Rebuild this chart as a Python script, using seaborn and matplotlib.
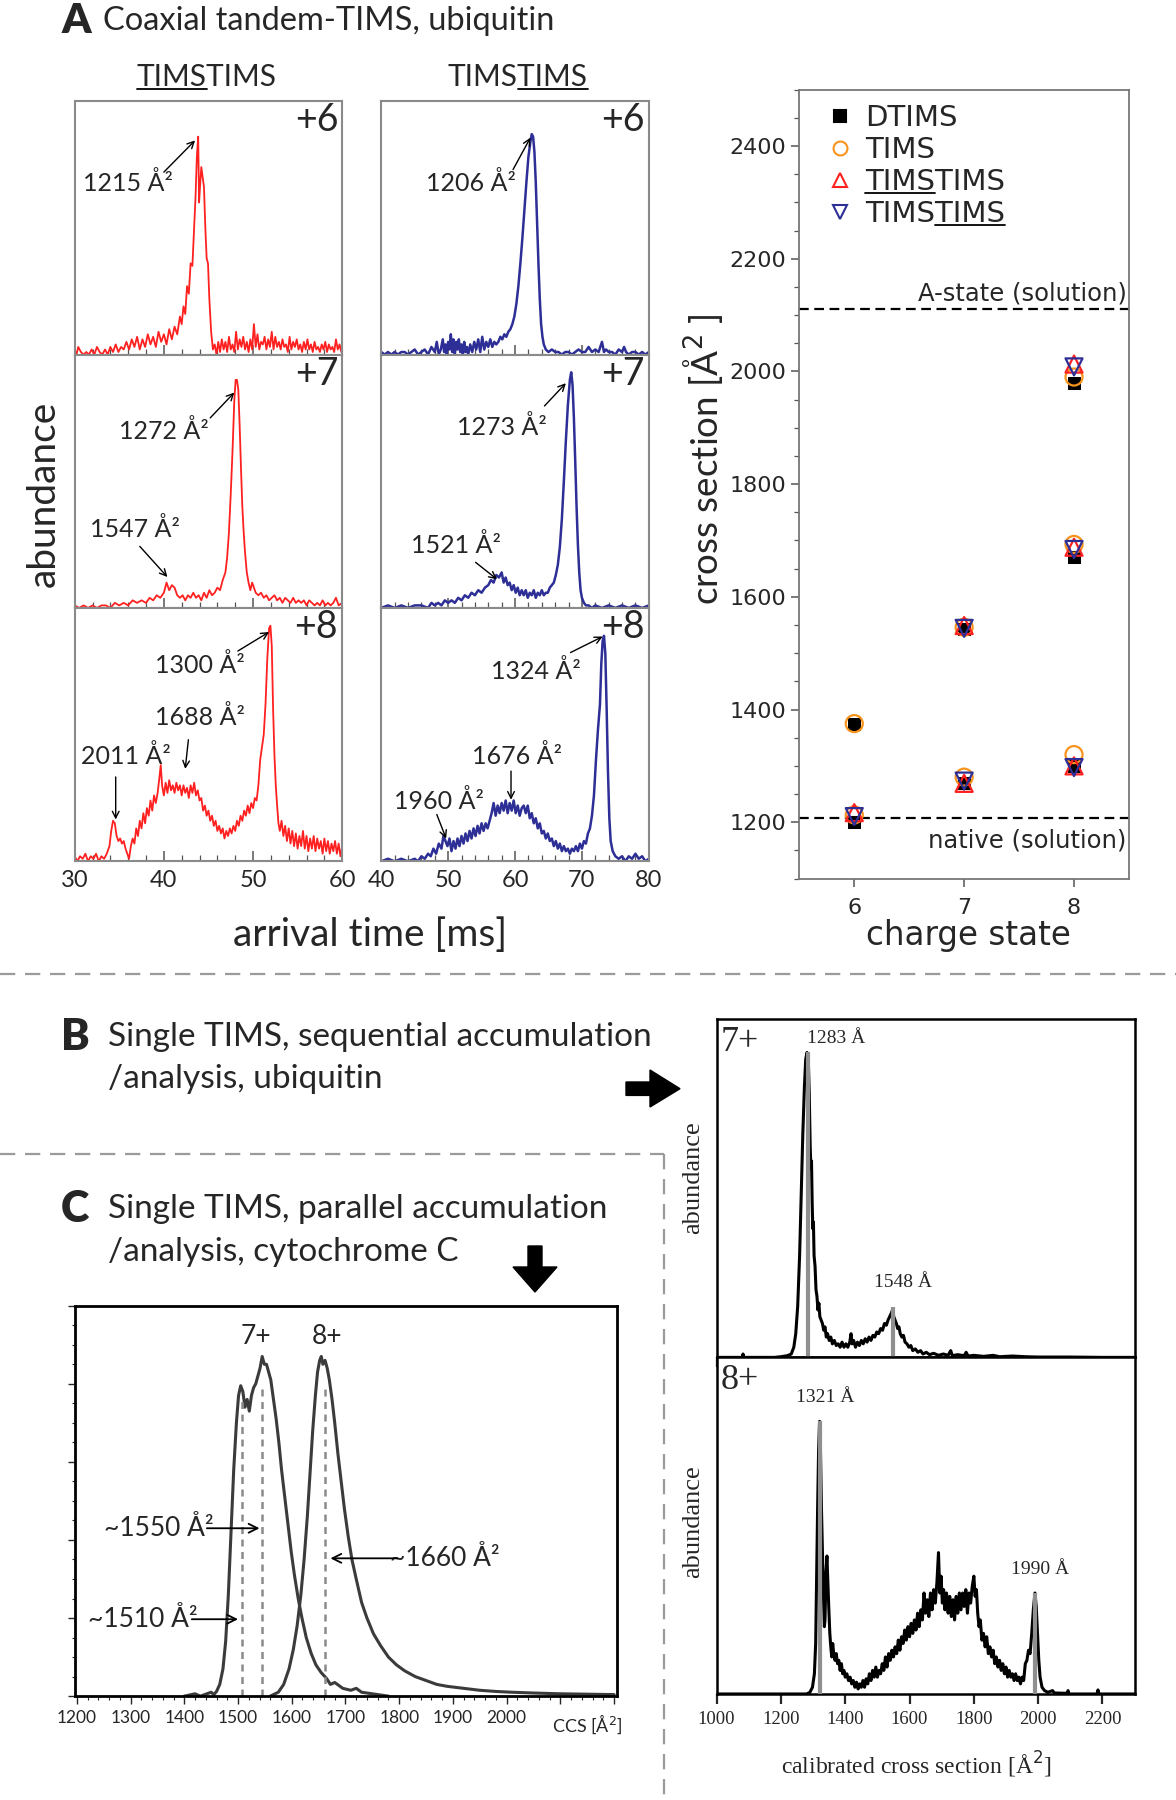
import numpy as np
import pandas as pd
import matplotlib
matplotlib.use("Agg")
import matplotlib.pyplot as plt
import seaborn as sns
from matplotlib.lines import Line2D
from matplotlib.patches import Polygon
from matplotlib.ticker import MultipleLocator, NullFormatter, FixedLocator
from matplotlib import font_manager

# ---------------- data ----------------
# Panel A: arrival-time traces (ms, relative abundance)
red6 = [(30.0,0.02),(30.2,0.0),(30.4,0.03),(30.7,0.01),(31.0,0.0),(31.3,0.01),(31.6,0.0),(31.9,0.02),(32.2,0.0),(32.5,0.03),
        (32.8,0.01),(33.1,0.0),(33.4,0.02),(33.7,0.0),(34.0,0.03),(34.3,0.01),(34.6,0.04),(34.9,0.01),(35.2,0.03),(35.5,0.02),
        (35.8,0.05),(36.1,0.02),(36.4,0.06),(36.7,0.03),(37.0,0.07),(37.3,0.02),(37.6,0.06),(37.9,0.03),(38.2,0.08),(38.5,0.04),
        (38.8,0.07),(39.1,0.03),(39.4,0.09),(39.7,0.05),(40.0,0.08),(40.3,0.04),(40.6,0.1),(40.9,0.06),(41.2,0.11),(41.5,0.08),
        (41.8,0.15),(42.0,0.12),(42.2,0.19),(42.4,0.16),(42.6,0.27),(42.8,0.24),(43.0,0.36),(43.2,0.35),(43.4,0.5),(43.55,0.62),
        (43.7,0.78),(43.85,0.86),(43.95,0.6),(44.05,0.66),(44.2,0.74),(44.35,0.7),(44.5,0.66),(44.65,0.5),(44.8,0.38),(44.95,0.36),
        (45.1,0.22),(45.3,0.09),(45.5,0.02),(45.7,0.04),(45.9,0.0),(46.1,0.05),(46.3,0.01),(46.5,0.06),(46.7,0.02),(46.9,0.05),
        (47.1,0.01),(47.3,0.07),(47.5,0.02),(47.7,0.04),(47.9,0.01),(48.1,0.09),(48.3,0.02),(48.5,0.06),(48.7,0.03),(48.9,0.07),
        (49.1,0.02),(49.3,0.05),(49.5,0.01),(49.7,0.06),(49.9,0.02),(50.1,0.12),(50.3,0.03),(50.5,0.08),(50.7,0.02),(50.9,0.05),
        (51.1,0.04),(51.3,0.07),(51.5,0.02),(51.7,0.06),(51.9,0.03),(52.1,0.09),(52.3,0.02),(52.5,0.07),(52.7,0.03),(52.9,0.05),
        (53.1,0.02),(53.3,0.06),(53.5,0.03),(53.7,0.04),(53.9,0.01),(54.1,0.07),(54.3,0.02),(54.5,0.05),(54.7,0.03),(54.9,0.06),
        (55.1,0.02),(55.3,0.04),(55.5,0.01),(55.7,0.05),(55.9,0.02),(56.1,0.06),(56.3,0.02),(56.5,0.04),(56.7,0.01),(56.9,0.05),
        (57.1,0.02),(57.3,0.03),(57.5,0.01),(57.7,0.04),(57.9,0.02),(58.1,0.05),(58.3,0.01),(58.5,0.04),(58.7,0.02),(58.9,0.03),
        (59.1,0.01),(59.3,0.06),(59.5,0.02),(59.7,0.04),(59.9,0.01),(60.0,0.03)]
red7 = [(30.0,0.01),(30.5,0.0),(31.0,0.01),(31.5,0.0),(32.0,0.01),(32.5,0.0),(33.0,0.01),(33.5,0.01),(34.0,0.0),(34.5,0.02),
        (35.0,0.01),(35.5,0.02),(36.0,0.01),(36.5,0.03),(37.0,0.02),(37.5,0.03),(38.0,0.02),(38.4,0.04),(38.8,0.03),(39.2,0.05),
        (39.6,0.04),(40.0,0.06),(40.3,0.1),(40.6,0.07),(40.9,0.09),(41.2,0.08),(41.5,0.05),(41.8,0.04),(42.1,0.05),(42.4,0.03),
        (42.7,0.05),(43.0,0.04),(43.3,0.06),(43.6,0.04),(43.9,0.05),(44.2,0.03),(44.5,0.06),(44.8,0.04),(45.1,0.07),(45.4,0.05),
        (45.7,0.06),(46.0,0.08),(46.3,0.07),(46.6,0.11),(46.9,0.14),(47.1,0.2),(47.3,0.3),(47.5,0.45),(47.7,0.62),(47.9,0.82),
        (48.05,0.9),(48.2,0.9),(48.35,0.86),(48.5,0.72),(48.65,0.55),(48.8,0.4),(48.95,0.3),(49.1,0.22),(49.3,0.14),(49.5,0.1),
        (49.7,0.07),(49.9,0.1),(50.1,0.08),(50.3,0.06),(50.6,0.05),(50.9,0.06),(51.2,0.04),(51.5,0.05),(51.8,0.03),(52.1,0.04),
        (52.4,0.05),(52.7,0.03),(53.0,0.04),(53.3,0.02),(53.6,0.04),(53.9,0.03),(54.2,0.02),(54.5,0.04),(54.8,0.02),(55.1,0.03),
        (55.4,0.02),(55.7,0.03),(56.0,0.01),(56.3,0.03),(56.6,0.02),(56.9,0.01),(57.2,0.02),(57.5,0.01),(57.8,0.03),(58.1,0.01),
        (58.4,0.02),(58.7,0.01),(59.0,0.02),(59.3,0.04),(59.6,0.01),(60.0,0.02)]
red8 = [(30.0,0.02),(30.3,0.0),(30.6,0.02),(30.9,0.01),(31.2,0.03),(31.5,0.0),(31.8,0.02),(32.1,0.01),(32.4,0.03),(32.7,0.0),
        (33.0,0.02),(33.3,0.01),(33.6,0.03),(33.9,0.06),(34.1,0.12),(34.3,0.16),(34.5,0.15),(34.7,0.1),(34.9,0.08),(35.1,0.09),
        (35.3,0.07),(35.5,0.08),(35.7,0.05),(35.9,0.03),(36.1,0.01),(36.3,0.06),(36.5,0.09),(36.7,0.07),(36.9,0.13),(37.1,0.1),
        (37.3,0.16),(37.5,0.13),(37.7,0.19),(37.9,0.15),(38.1,0.21),(38.3,0.18),(38.5,0.24),(38.7,0.2),(38.9,0.26),(39.1,0.23),
        (39.3,0.27),(39.5,0.33),(39.65,0.38),(39.8,0.3),(40.0,0.26),(40.2,0.31),(40.4,0.27),(40.6,0.32),(40.8,0.28),(41.0,0.3),
        (41.2,0.27),(41.4,0.31),(41.6,0.28),(41.8,0.3),(42.0,0.26),(42.2,0.3),(42.4,0.27),(42.6,0.29),(42.8,0.25),(43.0,0.3),
        (43.2,0.27),(43.4,0.31),(43.6,0.26),(43.8,0.28),(44.0,0.24),(44.2,0.25),(44.4,0.2),(44.6,0.22),(44.8,0.18),(45.0,0.2),
        (45.2,0.16),(45.4,0.18),(45.6,0.14),(45.8,0.16),(46.0,0.12),(46.2,0.14),(46.4,0.11),(46.6,0.13),(46.8,0.09),(47.0,0.12),
        (47.2,0.1),(47.4,0.13),(47.6,0.11),(47.8,0.14),(48.0,0.12),(48.2,0.16),(48.4,0.14),(48.6,0.18),(48.8,0.16),(49.0,0.2),
        (49.2,0.18),(49.4,0.22),(49.6,0.19),(49.8,0.23),(50.0,0.21),(50.2,0.25),(50.4,0.24),(50.6,0.3),(50.8,0.4),(51.0,0.45),
        (51.2,0.5),(51.4,0.62),(51.6,0.8),(51.8,0.92),(51.95,0.93),(52.1,0.85),(52.25,0.6),(52.4,0.42),(52.55,0.3),(52.7,0.22),
        (52.85,0.15),(53.0,0.12),(53.2,0.16),(53.4,0.1),(53.6,0.14),(53.8,0.08),(54.0,0.13),(54.2,0.07),(54.4,0.12),(54.6,0.06),
        (54.8,0.11),(55.0,0.05),(55.2,0.1),(55.4,0.06),(55.6,0.12),(55.8,0.05),(56.0,0.1),(56.2,0.04),(56.4,0.09),(56.6,0.05),
        (56.8,0.1),(57.0,0.04),(57.2,0.09),(57.4,0.05),(57.6,0.08),(57.8,0.03),(58.0,0.09),(58.2,0.04),(58.4,0.08),(58.6,0.03),
        (58.8,0.07),(59.0,0.04),(59.2,0.08),(59.4,0.03),(59.6,0.07),(59.8,0.02),(60.0,0.06)]
blue6 = [(40.0,0.01),(40.5,0.0),(41.0,0.01),(41.5,0.0),(42.0,0.01),(42.5,0.0),(43.0,0.01),(43.5,0.01),(44.0,0.0),(44.5,0.01),
         (45.0,0.02),(45.5,0.0),(46.0,0.01),(46.5,0.02),(47.0,0.0),(47.5,0.03),(48.0,0.01),(48.3,0.05),(48.6,0.0),(48.9,0.02),
         (49.2,0.06),(49.4,0.01),(49.6,0.04),(49.8,0.0),(50.0,0.05),(50.2,0.02),(50.4,0.08),(50.6,0.01),(50.8,0.06),(51.0,0.0),
         (51.2,0.05),(51.4,0.02),(51.6,0.06),(51.8,0.01),(52.0,0.04),(52.2,0.0),(52.4,0.05),(52.6,0.01),(52.8,0.03),(53.0,0.0),
         (53.3,0.04),(53.6,0.01),(53.9,0.05),(54.2,0.02),(54.5,0.06),(54.8,0.01),(55.1,0.07),(55.4,0.02),(55.7,0.05),(56.0,0.03),
         (56.3,0.06),(56.6,0.03),(56.9,0.05),(57.2,0.04),(57.5,0.05),(57.8,0.07),(58.1,0.06),(58.4,0.08),(58.7,0.07),(59.0,0.09),
         (59.3,0.1),(59.6,0.12),(59.9,0.15),(60.2,0.2),(60.5,0.27),(60.8,0.36),(61.1,0.46),(61.4,0.57),(61.7,0.68),(62.0,0.78),
         (62.3,0.84),(62.5,0.87),(62.7,0.86),(62.9,0.8),(63.1,0.68),(63.3,0.52),(63.5,0.36),(63.7,0.22),(63.9,0.12),(64.1,0.07),
         (64.3,0.04),(64.6,0.02),(65.0,0.01),(65.5,0.02),(66.0,0.01),(66.5,0.01),(67.0,0.0),(67.5,0.01),(68.0,0.01),(68.5,0.0),
         (69.0,0.01),(69.5,0.02),(70.0,0.01),(70.5,0.01),(71.0,0.03),(71.5,0.01),(72.0,0.02),(72.5,0.01),(73.0,0.05),(73.3,0.01),
         (73.6,0.02),(74.0,0.01),(74.5,0.01),(75.0,0.0),(75.5,0.02),(76.0,0.01),(76.3,0.03),(76.6,0.01),(77.0,0.0),(77.5,0.01),
         (78.0,0.01),(78.5,0.0),(79.0,0.01),(79.5,0.0),(80.0,0.01)]
blue7 = [(40.0,0.0),(41.0,0.01),(42.0,0.0),(43.0,0.01),(44.0,0.0),(45.0,0.01),(46.0,0.01),(47.0,0.0),(47.5,0.02),(48.0,0.01),
         (48.5,0.02),(49.0,0.01),(49.5,0.03),(50.0,0.02),(50.5,0.03),(51.0,0.02),(51.5,0.04),(52.0,0.03),(52.5,0.05),(53.0,0.04),
         (53.5,0.06),(54.0,0.05),(54.5,0.07),(55.0,0.06),(55.5,0.08),(56.0,0.09),(56.4,0.11),(56.8,0.1),(57.2,0.13),(57.6,0.12),
         (58.0,0.14),(58.3,0.1),(58.6,0.12),(58.9,0.09),(59.2,0.1),(59.5,0.07),(59.8,0.09),(60.1,0.06),(60.4,0.08),(60.7,0.05),
         (61.0,0.07),(61.3,0.05),(61.6,0.07),(61.9,0.04),(62.2,0.06),(62.5,0.05),(62.8,0.07),(63.1,0.04),(63.4,0.06),(63.7,0.05),
         (64.0,0.07),(64.3,0.05),(64.6,0.06),(64.9,0.06),(65.2,0.08),(65.5,0.09),(65.8,0.1),(66.1,0.13),(66.4,0.17),(66.7,0.24),
         (67.0,0.35),(67.3,0.5),(67.6,0.66),(67.9,0.8),(68.2,0.9),(68.4,0.93),(68.6,0.88),(68.8,0.75),(69.0,0.58),(69.2,0.4),
         (69.4,0.25),(69.6,0.14),(69.8,0.07),(70.0,0.04),(70.3,0.02),(70.6,0.01),(71.0,0.01),(71.5,0.0),(72.0,0.01),(73.0,0.0),
         (74.0,0.01),(75.0,0.0),(76.0,0.01),(77.0,0.0),(78.0,0.01),(79.0,0.0),(80.0,0.01)]
blue8 = [(40.0,0.0),(41.0,0.01),(42.0,0.0),(43.0,0.01),(44.0,0.0),(45.0,0.01),(45.5,0.0),(46.0,0.02),(46.5,0.01),(47.0,0.03),
         (47.4,0.02),(47.8,0.05),(48.2,0.03),(48.6,0.07),(49.0,0.05),(49.3,0.1),(49.6,0.08),(49.9,0.06),(50.2,0.09),(50.5,0.04),
         (50.8,0.08),(51.1,0.05),(51.4,0.09),(51.7,0.06),(52.0,0.1),(52.3,0.07),(52.6,0.11),(52.9,0.08),(53.2,0.12),(53.5,0.09),
         (53.8,0.13),(54.1,0.1),(54.4,0.14),(54.7,0.11),(55.0,0.15),(55.3,0.12),(55.6,0.15),(55.9,0.13),(56.2,0.16),(56.5,0.19),
         (56.8,0.23),(57.1,0.18),(57.4,0.22),(57.7,0.19),(58.0,0.23),(58.3,0.2),(58.6,0.24),(58.9,0.19),(59.2,0.23),(59.5,0.2),
         (59.8,0.24),(60.1,0.19),(60.4,0.22),(60.7,0.18),(61.0,0.21),(61.3,0.22),(61.6,0.19),(61.9,0.22),(62.2,0.17),(62.5,0.19),
         (62.8,0.15),(63.1,0.17),(63.4,0.13),(63.7,0.15),(64.0,0.11),(64.3,0.12),(64.6,0.09),(64.9,0.11),(65.2,0.08),(65.5,0.09),
         (65.8,0.06),(66.1,0.08),(66.4,0.05),(66.7,0.07),(67.0,0.04),(67.3,0.06),(67.6,0.04),(67.9,0.05),(68.2,0.03),(68.5,0.05),
         (68.8,0.04),(69.1,0.06),(69.4,0.04),(69.7,0.07),(70.0,0.05),(70.3,0.08),(70.6,0.07),(70.9,0.11),(71.2,0.13),(71.5,0.18),
         (71.8,0.26),(72.1,0.4),(72.4,0.52),(72.7,0.62),(72.9,0.78),(73.1,0.87),(73.3,0.89),(73.5,0.82),(73.7,0.6),(73.9,0.35),
         (74.1,0.17),(74.3,0.08),(74.6,0.04),(75.0,0.02),(75.5,0.01),(76.0,0.02),(76.5,0.0),(77.0,0.02),(77.5,0.01),(78.0,0.03),
         (78.5,0.01),(79.0,0.02),(79.5,0.0),(80.0,0.01)]
charge_labels_A = ["+6", "+7", "+8"]
ticks_left = [30, 40, 50, 60]
ticks_right = [40, 50, 60, 70, 80]

# Panel A right: cross sections vs charge state
dtims_z = [6, 6, 7, 7, 8, 8, 8]
dtims_ccs = [1375, 1200, 1543, 1270, 1980, 1670, 1300]
tims_z = [6, 6, 7, 7, 8, 8, 8]
tims_ccs = [1375, 1213, 1546, 1280, 1990, 1693, 1320]
tt1_z = [6, 7, 7, 8, 8, 8]
tt1_ccs = [1217, 1549, 1269, 2013, 1688, 1300]
tt2_z = [6, 7, 7, 8, 8, 8]
tt2_ccs = [1210, 1544, 1273, 2008, 1684, 1297]
a_state = 2110
native_state = 1207
scatter_yticks = [1200, 1400, 1600, 1800, 2000, 2200, 2400]

# Panel C: CCS distributions, cytochrome C
c7 = [(1400,0.0),(1420,0.006),(1430,0.0),(1440,0.005),(1450,0.01),(1455,0.004),(1460,0.012),(1466,0.03),(1472,0.07),(1477,0.14),
      (1482,0.26),(1487,0.42),(1492,0.58),(1497,0.7),(1501,0.77),(1505,0.795),(1509,0.78),(1513,0.74),(1517,0.76),(1521,0.73),
      (1525,0.77),(1529,0.79),(1533,0.8),(1537,0.82),(1541,0.84),(1545,0.87),(1549,0.85),(1553,0.85),(1557,0.83),(1561,0.81),
      (1566,0.76),(1571,0.71),(1576,0.65),(1581,0.58),(1587,0.51),(1593,0.44),(1599,0.37),(1605,0.31),(1612,0.25),(1619,0.2),
      (1627,0.15),(1636,0.11),(1645,0.08),(1655,0.06),(1665,0.045),(1672,0.03),(1680,0.035),(1695,0.02),(1710,0.015),(1720,0.02),
      (1730,0.01),(1750,0.006),(1780,0.0)]
c8 = [(1560,0.0),(1575,0.01),(1585,0.03),(1595,0.07),(1603,0.12),(1610,0.18),(1617,0.26),(1623,0.35),(1629,0.46),(1634,0.57),
      (1639,0.68),(1644,0.77),(1648,0.83),(1652,0.86),(1655,0.87),(1658,0.85),(1662,0.86),(1666,0.84),(1670,0.81),(1675,0.76),
      (1680,0.7),(1686,0.62),(1692,0.55),(1698,0.48),(1705,0.41),(1712,0.35),(1720,0.3),(1730,0.24),(1740,0.2),(1752,0.16),
      (1765,0.13),(1780,0.1),(1795,0.08),(1810,0.065),(1830,0.05),(1850,0.04),(1870,0.03),(1890,0.025),(1920,0.02),(1950,0.015),
      (1980,0.012),(2010,0.01),(2050,0.008),(2100,0.006),(2150,0.005),(2200,0.004)]
c_marks = [1508, 1545, 1662]
c_mark_tops = [0.77, 0.80, 0.80]
c_ticks = [1200, 1300, 1400, 1500, 1600, 1700, 1800, 1900, 2000]

# Panel B: calibrated cross sections, ubiquitin
b7 = [(1000,0.0),(1080,0.0),(1082,0.01),(1084,0.0),(1180,0.0),(1200,0.002),(1220,0.005),(1232,0.01),(1240,0.03),(1246,0.07),
      (1252,0.15),(1258,0.3),(1263,0.48),(1268,0.66),(1273,0.8),(1277,0.88),(1281,0.9),(1285,0.88),(1288,0.78),(1291,0.62),
      (1293,0.56),(1295,0.58),(1297,0.46),(1299,0.38),(1301,0.4),(1303,0.3),(1306,0.27),(1309,0.2),(1312,0.18),(1315,0.14),
      (1318,0.16),(1321,0.12),(1325,0.11),(1329,0.1),(1333,0.08),(1337,0.09),(1341,0.06),(1345,0.07),(1350,0.05),(1355,0.06),
      (1360,0.04),(1366,0.05),(1372,0.035),(1378,0.04),(1384,0.03),(1390,0.045),(1396,0.03),(1402,0.04),(1408,0.03),(1414,0.045),
      (1418,0.07),(1421,0.04),(1426,0.05),(1432,0.03),(1438,0.045),(1444,0.035),(1450,0.05),(1456,0.04),(1462,0.055),(1468,0.045),
      (1474,0.06),(1480,0.05),(1486,0.065),(1492,0.06),(1498,0.075),(1504,0.07),(1510,0.085),(1516,0.08),(1522,0.1),(1528,0.095),
      (1533,0.11),(1538,0.12),(1543,0.13),(1547,0.14),(1551,0.12),(1555,0.11),(1559,0.1),(1563,0.085),(1567,0.09),(1571,0.07),
      (1576,0.06),(1581,0.065),(1586,0.045),(1592,0.04),(1598,0.03),(1604,0.035),(1610,0.02),(1618,0.025),(1626,0.015),(1634,0.02),
      (1642,0.01),(1652,0.015),(1662,0.008),(1675,0.012),(1690,0.006),(1705,0.01),(1720,0.006),(1728,0.02),(1733,0.005),(1750,0.008),
      (1770,0.005),(1776,0.015),(1782,0.004),(1800,0.006),(1830,0.003),(1860,0.006),(1880,0.002),(1920,0.004),(1960,0.002),(2000,0.001),
      (2100,0.001),(2200,0.0),(2300,0.0)]
b8 = [(1000,0.0),(1280,0.0),(1290,0.005),(1298,0.02),(1304,0.06),(1308,0.15),(1311,0.35),(1314,0.55),(1317,0.72),(1320,0.81),
      (1323,0.72),(1326,0.55),(1329,0.42),(1332,0.3),(1335,0.2),(1337,0.22),(1340,0.36),(1343,0.41),(1346,0.33),(1349,0.25),
      (1352,0.18),(1355,0.14),(1358,0.11),(1361,0.15),(1364,0.12),(1368,0.1),(1372,0.12),(1376,0.09),(1380,0.1),(1384,0.07),
      (1388,0.09),(1392,0.06),(1396,0.07),(1400,0.05),(1405,0.06),(1410,0.04),(1415,0.05),(1420,0.03),(1425,0.04),(1430,0.02),
      (1435,0.035),(1440,0.015),(1445,0.03),(1450,0.02),(1455,0.04),(1460,0.02),(1465,0.045),(1470,0.03),(1475,0.06),(1480,0.04),
      (1485,0.07),(1490,0.05),(1495,0.08),(1500,0.05),(1505,0.07),(1510,0.06),(1515,0.09),(1520,0.07),(1525,0.11),(1530,0.08),
      (1535,0.12),(1540,0.1),(1545,0.13),(1550,0.11),(1555,0.14),(1560,0.12),(1565,0.16),(1570,0.13),(1575,0.17),(1580,0.15),
      (1585,0.19),(1590,0.16),(1595,0.2),(1600,0.17),(1605,0.21),(1610,0.18),(1615,0.22),(1620,0.19),(1625,0.24),(1630,0.2),
      (1635,0.25),(1640,0.22),(1645,0.3),(1650,0.24),(1655,0.28),(1660,0.23),(1665,0.3),(1670,0.25),(1675,0.31),(1680,0.27),
      (1685,0.33),(1690,0.42),(1694,0.3),(1698,0.35),(1702,0.27),(1706,0.31),(1710,0.25),(1715,0.3),(1720,0.24),(1725,0.29),
      (1730,0.23),(1735,0.28),(1740,0.22),(1745,0.29),(1750,0.24),(1755,0.3),(1760,0.25),(1765,0.3),(1770,0.26),(1775,0.31),
      (1780,0.24),(1785,0.3),(1790,0.27),(1795,0.32),(1800,0.35),(1804,0.29),(1808,0.31),(1812,0.24),(1816,0.2),(1820,0.22),
      (1825,0.16),(1830,0.18),(1835,0.14),(1840,0.17),(1845,0.12),(1850,0.14),(1855,0.11),(1860,0.13),(1865,0.09),(1870,0.11),
      (1875,0.08),(1880,0.1),(1885,0.07),(1890,0.09),(1895,0.06),(1900,0.08),(1905,0.05),(1910,0.07),(1915,0.05),(1920,0.06),
      (1925,0.04),(1930,0.06),(1935,0.04),(1940,0.05),(1945,0.03),(1950,0.05),(1955,0.04),(1960,0.09),(1965,0.1),(1970,0.13),
      (1975,0.12),(1980,0.18),(1985,0.25),(1990,0.3),(1994,0.26),(1998,0.18),(2002,0.1),(2006,0.05),(2012,0.02),(2020,0.01),
      (2030,0.005),(2045,0.01),(2050,0.003),(2090,0.002),(2093,0.01),(2096,0.0),(2183,0.0),(2186,0.012),(2189,0.0),(2300,0.0)]
b7_marks = [1283, 1548]
b7_mark_tops = [0.9, 0.15]
b8_marks = [1321, 1990]
b8_mark_tops = [0.81, 0.3]
b_ticks = [1000, 1200, 1400, 1600, 1800, 2000, 2200]

# ---------------- style ----------------
sns.set_style("white")
names = {f.name for f in font_manager.fontManager.ttflist}
CAL = "Lato" if "Lato" in names else "DejaVu Sans"
NARROW = "Liberation Sans Narrow" if "Liberation Sans Narrow" in names else CAL
SERIF = "Liberation Serif"
WIDE = "DejaVu Sans"
plt.rcParams["font.family"] = ["DejaVu Sans"]
plt.rcParams["lines.scale_dashes"] = False

RED = "#ff2020"
BLUE = "#2e2f96"
ORANGE = "#f7941d"
GREYBOX = "#8a8a8a"

W, H = 1176, 1800
fig = plt.figure(figsize=(W / 100, H / 100), dpi=100)


def fx(px):
    return px / W


def fy(py):
    return 1 - py / H


def trace(ax, pairs, color, lw):
    df = pd.DataFrame(pairs, columns=["x", "y"])
    sns.lineplot(data=df, x="x", y="y", ax=ax, color=color, lw=lw,
                 estimator=None, sort=False)
    ax.set_xlabel("")
    ax.set_ylabel("")


# ---------------- Panel A traces ----------------
colW = 0.2275
rowTop = 0.9438
rowH = 0.14077
red_ann = [
    [("1215 Å²", 36.0, 0.676, (40.0, 0.72), (43.5, 0.845))],
    [("1272 Å²", 40.0, 0.698, (45.2, 0.75), (47.9, 0.85)),
     ("1547 Å²", 36.8, 0.31, (37.3, 0.243), (40.4, 0.122))],
    [("1300 Å²", 44.0, 0.775, (48.3, 0.83), (51.8, 0.905)),
     ("1688 Å²", 44.0, 0.568, (42.75, 0.48), (42.4, 0.365)),
     ("2011 Å²", 35.7, 0.414, (34.6, 0.333), (34.6, 0.165))],
]
blue_ann = [
    [("1206 Å²", 53.4, 0.676, (59.7, 0.73), (62.3, 0.856))],
    [("1273 Å²", 58.1, 0.716, (64.4, 0.797), (67.6, 0.887)),
     ("1521 Å²", 51.2, 0.248, (54.1, 0.18), (57.3, 0.113))],
    [("1324 Å²", 63.1, 0.752, (68.3, 0.824), (73.1, 0.887)),
     ("1676 Å²", 60.3, 0.414, (59.4, 0.356), (59.4, 0.243)),
     ("1960 Å²", 48.6, 0.239, (48.3, 0.185), (49.7, 0.09))],
]
columns = [
    (0.0635, [red6, red7, red8], (30, 60), ticks_left, RED, 1.3, red_ann),
    (0.3242, [blue6, blue7, blue8], (40, 80), ticks_right, BLUE, 1.8, blue_ann),
]
for x0, rows, xl, tks, col, lw, anns in columns:
    for r in range(3):
        ax = fig.add_axes([x0, rowTop - (r + 1) * rowH, colW, rowH])
        trace(ax, rows[r], col, lw)
        ax.set_xlim(*xl)
        ax.set_ylim(0, 1)
        ax.set_yticks([])
        ax.xaxis.set_major_locator(FixedLocator(tks))
        ax.xaxis.set_minor_locator(MultipleLocator(2))
        ax.tick_params(axis="x", which="major", direction="in", length=7, width=1.1,
                       color="#555555", bottom=True, top=False, labelsize=17, pad=6)
        ax.tick_params(axis="x", which="minor", direction="in", length=4, width=0.9,
                       color="#555555", bottom=True, top=False)
        for lab in ax.get_xticklabels():
            lab.set_fontfamily(CAL)
        if r < 2:
            ax.tick_params(labelbottom=False)
        for s in ax.spines.values():
            s.set_color(GREYBOX)
            s.set_linewidth(1.5)
        ax.text(0.985, 0.925, charge_labels_A[r], transform=ax.transAxes, ha="right",
                va="center", fontsize=27, family=CAL)
        for txt, tx, ty, a0, a1 in anns[r]:
            ax.text(tx, ty, txt, ha="center", va="center", fontsize=18, family=CAL)
            ax.annotate("", xy=a1, xytext=a0,
                        arrowprops=dict(arrowstyle="->", lw=1.0, color="black",
                                        shrinkA=0, shrinkB=0, mutation_scale=12))

hdr1 = fig.text(fx(206.7), fy(76.9), "TIMSTIMS", ha="center", va="center",
                fontsize=21.5, family=CAL)
hdr2 = fig.text(fx(517.9), fy(76.9), "TIMSTIMS", ha="center", va="center",
                fontsize=21.5, family=CAL)
fig.text(fx(43.6), fy(493.8), "abundance", rotation=90, ha="center", va="center",
         fontsize=28, family=CAL)
fig.text(fx(369.8), fy(934.5), "arrival time [ms]", ha="center", va="center",
         fontsize=28, family=CAL)
fig.text(fx(62), fy(20.7), "A", ha="left", va="center", fontsize=30,
         weight="heavy", family=CAL)
fig.text(fx(103), fy(21.5), "Coaxial tandem-TIMS, ubiquitin", ha="left",
         va="center", fontsize=23.5, family=CAL)

# ---------------- Panel A scatter ----------------
axS = fig.add_axes([0.6797, 0.5119, 0.2803, 0.4383])
sns.scatterplot(x=dtims_z, y=dtims_ccs, marker="s", color="black", edgecolor="black",
                s=85, ax=axS, zorder=3)
sns.scatterplot(x=tims_z, y=tims_ccs, marker="o", facecolors="none", edgecolor=ORANGE,
                s=150, linewidth=1.6, ax=axS, zorder=4)
sns.scatterplot(x=tt1_z, y=tt1_ccs, marker="^", facecolors="none", edgecolor=RED,
                s=150, linewidth=1.6, ax=axS, zorder=5)
sns.scatterplot(x=tt2_z, y=tt2_ccs, marker="v", facecolors="none", edgecolor=BLUE,
                s=150, linewidth=1.6, ax=axS, zorder=6)
axS.axhline(a_state, color="black", lw=1.6, dashes=(7, 4))
axS.axhline(native_state, color="black", lw=1.6, dashes=(7, 4))
axS.set_xlim(5.5, 8.5)
axS.set_ylim(1100, 2500)
axS.set_xticks([6, 7, 8])
axS.yaxis.set_major_locator(FixedLocator(scatter_yticks))
axS.yaxis.set_minor_locator(MultipleLocator(50))
axS.tick_params(axis="both", which="major", direction="out", length=6, width=1.1,
                color="#555555", labelsize=16, left=True, bottom=True)
axS.tick_params(axis="y", which="minor", direction="out", length=3.5, width=0.9,
                color="#555555", left=True)
axS.tick_params(axis="x", pad=8)
for s in axS.spines.values():
    s.set_color("#777777")
    s.set_linewidth(1.3)
axS.text(8.48, a_state + 28, "A-state (solution)", ha="right", va="center",
         fontsize=17.5, family=WIDE)
axS.text(8.48, native_state - 40, "native (solution)", ha="right", va="center",
         fontsize=17.5, family=WIDE)
# legend
leg_rows = [("DTIMS", "s", "black", "black", 0.9665),
            ("TIMS", "o", "none", ORANGE, 0.926),
            ("TIMSTIMS", "^", "none", RED, 0.886),
            ("TIMSTIMS", "v", "none", BLUE, 0.845)]
leg_texts = []
for lab, mk, fc, ec, yy in leg_rows:
    axS.plot([0.122], [yy], marker=mk, ms=10 if mk != "s" else 8.5, mfc=fc, mec=ec,
             mew=1.5, transform=axS.transAxes, clip_on=False, ls="none")
    t = axS.text(0.2, yy - 0.003, lab, transform=axS.transAxes, ha="left", va="center",
                 fontsize=21, family=WIDE)
    leg_texts.append(t)
axS.set_xlabel("")
axS.set_ylabel("")
fig.text(fx(702.8), fy(459.4), "cross section [Å$^2$ ]", rotation=90, ha="center",
         va="center", fontsize=26.5, family=NARROW)
fig.text(fx(968), fy(936), "charge state", ha="center", va="center", fontsize=23.5,
         family=WIDE)

# ---------------- separators ----------------
sep_kw = dict(transform=fig.transFigure, color="#9a9a9a", lw=1.6, dashes=(11, 7))
fig.add_artist(Line2D([0, 1], [fy(973.8), fy(973.8)], **sep_kw))
fig.add_artist(Line2D([0, fx(663.8)], [fy(1154), fy(1154)], **sep_kw))
fig.add_artist(Line2D([fx(663.8), fx(663.8)], [fy(1154), 0], **sep_kw))

# ---------------- Panel B / C titles ----------------
fig.text(fx(61), fy(1037), "B", ha="left", va="center", fontsize=31, weight="heavy",
         family=CAL)
fig.text(fx(108), fy(1037), "Single TIMS, sequential accumulation", ha="left",
         va="center", fontsize=24, family=CAL)
fig.text(fx(108), fy(1079.5), "/analysis, ubiquitin", ha="left", va="center",
         fontsize=24, family=CAL)
fig.text(fx(61), fy(1209.3), "C", ha="left", va="center", fontsize=31, weight="heavy",
         family=CAL)
fig.text(fx(108), fy(1209.3), "Single TIMS, parallel accumulation", ha="left",
         va="center", fontsize=24, family=CAL)
fig.text(fx(108), fy(1251.8), "/analysis, cytochrome C", ha="left", va="center",
         fontsize=24, family=CAL)

right_arrow = [(626, 1082), (650, 1082), (650, 1070), (680, 1088.7), (650, 1107),
               (650, 1095.4), (626, 1095.4)]
down_arrow = [(528, 1246), (542, 1246), (542, 1267), (557, 1267), (535, 1292),
              (513, 1267), (528, 1267)]
for pts in (right_arrow, down_arrow):
    fig.add_artist(Polygon([(fx(a), fy(b)) for a, b in pts], closed=True,
                           transform=fig.transFigure, color="black"))

# ---------------- Panel C chart ----------------
axC = fig.add_axes([0.0635, 0.0577, 0.461, 0.2169])
trace(axC, c7, "#3b3b3b", 2.2)
trace(axC, c8, "#3b3b3b", 2.2)
axC.vlines(c_marks, 0, c_mark_tops, colors="#8a8a8a", lw=1.8, linestyles=(0, (5, 4)))
axC.set_xlim(1196, 2205)
axC.set_ylim(0, 1.0)
axC.xaxis.set_minor_locator(MultipleLocator(20))
axC.set_xticks(c_ticks + [2100, 2200])
axC.set_xticklabels([str(v) for v in c_ticks] + ["", ""])
axC.yaxis.set_major_locator(MultipleLocator(0.2))
axC.yaxis.set_minor_locator(MultipleLocator(0.05))
axC.yaxis.set_major_formatter(NullFormatter())
axC.tick_params(axis="x", which="major", direction="out", length=6, width=1.0,
                labelsize=12.5, bottom=True, pad=4)
axC.tick_params(axis="x", which="minor", direction="out", length=3, width=0.8, bottom=True)
axC.tick_params(axis="y", which="major", direction="out", length=5, width=1.0, left=True)
axC.tick_params(axis="y", which="minor", direction="out", length=2.5, width=0.8, left=True)
for lab in axC.get_xticklabels():
    lab.set_fontfamily(NARROW)
for s in axC.spines.values():
    s.set_color("black")
    s.set_linewidth(2.0)
axC.text(2150, -0.072, "CCS [Å$^2$]", ha="center", va="center", fontsize=13,
         family=NARROW, clip_on=False)
axC.text(1534, 0.92, "7+", ha="center", va="center", fontsize=19, family=NARROW)
axC.text(1666, 0.92, "8+", ha="center", va="center", fontsize=19, family=NARROW)
c_ann = [("~1550 Å²", 1353, 0.43, (1442, 0.43), (1540, 0.43)),
         ("~1510 Å²", 1322, 0.197, (1414, 0.197), (1500, 0.197)),
         ("~1660 Å²", 1884, 0.353, (1797, 0.353), (1672, 0.353))]
for txt, tx, ty, a0, a1 in c_ann:
    axC.text(tx, ty, txt, ha="center", va="center", fontsize=19, family=NARROW)
    axC.annotate("", xy=a1, xytext=a0,
                 arrowprops=dict(arrowstyle="->", lw=1.3, color="black",
                                 shrinkA=0, shrinkB=0, mutation_scale=16))
axC.set_xlabel("")
axC.set_ylabel("")

# ---------------- Panel B chart ----------------
axB7 = fig.add_axes([0.6094, 0.2459, 0.3554, 0.1882])
axB8 = fig.add_axes([0.6094, 0.0589, 0.3554, 0.1870])
for ax, data, marks, tops, lab in ((axB7, b7, b7_marks, b7_mark_tops, "7+"),
                                   (axB8, b8, b8_marks, b8_mark_tops, "8+")):
    trace(ax, data, "black", 2.2)
    ax.vlines(marks, 0, tops, colors="#8f8f8f", lw=3.0, zorder=5)
    ax.set_xlim(1000, 2300)
    ax.set_ylim(0, 1)
    ax.set_yticks([])
    ax.set_xticks(b_ticks)
    ax.tick_params(axis="x", direction="out", length=7, width=1.6, bottom=True,
                   labelsize=13.5, pad=5)
    for t in ax.get_xticklabels():
        t.set_fontfamily(SERIF)
    for s in ax.spines.values():
        s.set_color("black")
        s.set_linewidth(1.8)
    ax.text(0.01, 0.93, lab, transform=ax.transAxes, ha="left", va="center",
            fontsize=26, family=SERIF)
axB7.tick_params(labelbottom=False)
axB7.text(1282, 0.94, "1283 Å", ha="left", va="center", fontsize=14, family=SERIF)
axB7.text(1579, 0.22, "1548 Å", ha="center", va="center", fontsize=14, family=SERIF)
axB8.text(1339, 0.88, "1321 Å", ha="center", va="center", fontsize=14, family=SERIF)
axB8.text(2007, 0.37, "1990 Å", ha="center", va="center", fontsize=14, family=SERIF)
fig.text(0.5898, 0.346, "abundance", rotation=90, ha="center", va="center",
         fontsize=19, family=SERIF)
fig.text(0.5898, 0.1547, "abundance", rotation=90, ha="center", va="center",
         fontsize=19, family=SERIF)
fig.text(0.7793, 0.0194, "calibrated cross section [Å$^2$]", ha="center", va="center",
         fontsize=17, family=SERIF)

# ---------------- underlines ----------------
fig.canvas.draw()
renderer = fig.canvas.get_renderer()


def underline(txt, i0, i1, lw=1.3):
    s = txt.get_text()
    fp = txt.get_fontproperties()
    bb = txt.get_window_extent(renderer)
    lp_d = renderer.get_text_width_height_descent("lp", fp, ismath=False)[2]
    w0 = renderer.get_text_width_height_descent(s[:i0], fp, ismath=False)[0] if i0 > 0 else 0.0
    w1 = renderer.get_text_width_height_descent(s[:i1], fp, ismath=False)[0]
    base = bb.y0 + lp_d
    y = base - fp.get_size_in_points() * 100 / 72 * 0.09
    inv = fig.transFigure.inverted()
    p0 = inv.transform((bb.x0 + w0, y))
    p1 = inv.transform((bb.x0 + w1, y))
    fig.add_artist(Line2D([p0[0], p1[0]], [p0[1], p1[1]], transform=fig.transFigure,
                          color="black", lw=lw))


underline(hdr1, 0, 4)
underline(hdr2, 4, 8)
underline(leg_texts[2], 0, 4)
underline(leg_texts[3], 4, 8)

fig.savefig("out.png", dpi=100)
